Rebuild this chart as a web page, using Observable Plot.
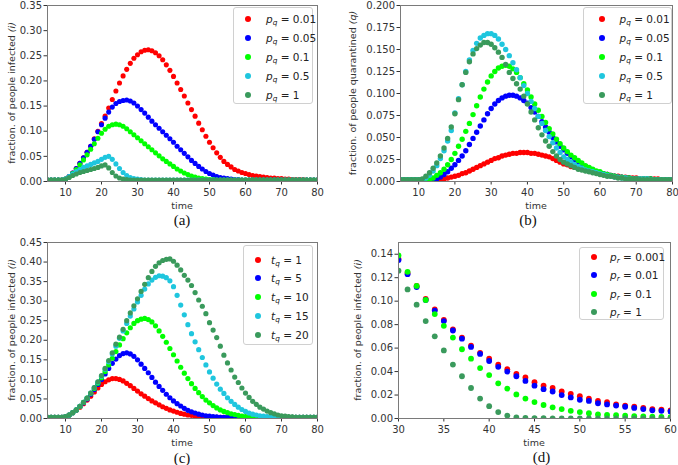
<!DOCTYPE html>
<html><head><meta charset="utf-8">
<script src="https://cdn.jsdelivr.net/npm/d3@7"></script>
<script src="https://cdn.jsdelivr.net/npm/@observablehq/plot@0.6"></script>
<style>
body{margin:0;background:#fff;width:678px;height:465px;position:relative;overflow:hidden;font-family:"DejaVu Sans",sans-serif;}
.panel{position:absolute;}
.cap{position:absolute;font-family:"Liberation Serif","Times New Roman",serif;font-size:15px;line-height:16px;color:#111;transform:translateX(-50%);white-space:nowrap;}
.legend{position:absolute;border:1px solid #d0d0d0;border-radius:3px;background:#fff;box-sizing:border-box;}
.lrow{position:absolute;left:0;right:0;height:16px;font-family:"DejaVu Sans";font-size:10.5px;line-height:16px;color:#222;white-space:nowrap;}
.lrow .sw{position:absolute;width:6px;height:6px;border-radius:50%;top:5px;}
.lrow .tx{position:absolute;top:0;}
.lrow sub{font-size:70%;vertical-align:-0.3em;line-height:0;}
</style></head><body>
<script>
// ---------- data ----------
const timeABC = d3.range(5, 81);   // t = 5 ... 80
const timeD = d3.range(30, 61);    // t = 30 ... 60

const colors5 = ["#ff0000", "#0000ff", "#00ff00", "#1fc6de", "#3a9a5c"];
const colors4 = ["#ff0000", "#0000ff", "#00ff00", "#3a9a5c"];

// (a) infected, p_q
const aLabels = ["0.01", "0.05", "0.1", "0.5", "1"];
const aRed = [0.003,0.003,0.003,0.003,0.003,
 0.005,0.010,0.017,0.026,0.036,0.047,0.058,0.070,0.085,0.100,
 0.115,0.130,0.146,0.163,0.180,0.196,0.210,0.223,0.235,0.245,
 0.252,0.258,0.261,0.262,0.260,0.256,0.250,0.242,0.232,0.221,
 0.209,0.196,0.183,0.170,0.156,0.143,0.130,0.116,0.103,0.090,
 0.078,0.067,0.057,0.048,0.040,0.034,0.029,0.024,0.021,0.018,
 0.016,0.014,0.012,0.011,0.010,0.009,0.008,0.007,0.007,0.006,
 0.006,0.005,0.005,0.004,0.004,0.004,0.004,0.003,0.003,0.003,0.003];
const aBlue = [0.003,0.003,0.003,0.003,0.003,
 0.005,0.010,0.017,0.026,0.036,0.047,0.058,0.070,0.084,0.099,
 0.113,0.126,0.138,0.148,0.155,0.159,0.161,0.162,0.160,0.156,
 0.150,0.143,0.136,0.128,0.120,0.113,0.106,0.099,0.092,0.085,
 0.078,0.070,0.063,0.056,0.049,0.042,0.036,0.030,0.025,0.020,
 0.016,0.013,0.010,0.008,0.007,0.006,0.005,0.004,0.004,0.003,
 0.003,0.003,0.003,0.003,0.003,0.003,0.003,0.003,0.003,0.003,
 0.003,0.003,0.003,0.003,0.003,0.003,0.003,0.003,0.003,0.003,0.003];
const aGreen = [0.003,0.003,0.003,0.003,0.003,
 0.005,0.009,0.016,0.024,0.033,0.043,0.053,0.064,0.075,0.086,
 0.096,0.104,0.110,0.113,0.114,0.113,0.110,0.105,0.099,0.093,
 0.087,0.081,0.075,0.069,0.063,0.057,0.051,0.045,0.040,0.035,
 0.030,0.025,0.021,0.017,0.014,0.011,0.009,0.007,0.006,0.005,
 0.004,0.004,0.003,0.003,0.003,0.003,0.003,0.003,0.003,0.003,
 0.003,0.003,0.003,0.003,0.003,0.003,0.003,0.003,0.003,0.003,
 0.003,0.003,0.003,0.003,0.003,0.003,0.003,0.003,0.003,0.003,0.003];
const aCyan = [0.003,0.003,0.003,0.003,0.003,
 0.005,0.010,0.015,0.020,0.024,0.028,0.031,0.034,0.037,0.040,
 0.044,0.048,0.050,0.044,0.035,0.026,0.018,0.012,0.008,0.006,
 0.005,0.004,0.003,0.003,0.003,0.003,0.003,0.003,0.003,0.003,
 0.003,0.003,0.003,0.003,0.003,0.003,0.003,0.003,0.003,0.003,
 0.003,0.003,0.003,0.003,0.003,0.003,0.003,0.003,0.003,0.003,
 0.003,0.003,0.003,0.003,0.003,0.003,0.003,0.003,0.003,0.003,
 0.003,0.003,0.003,0.003,0.003,0.003,0.003,0.003,0.003,0.003,0.003];
const aDark = [0.003,0.003,0.003,0.003,0.003,
 0.004,0.008,0.012,0.015,0.018,0.020,0.022,0.024,0.026,0.028,
 0.031,0.033,0.027,0.018,0.011,0.007,0.005,0.004,0.003,0.003,
 0.003,0.003,0.003,0.003,0.003,0.003,0.003,0.003,0.003,0.003,
 0.003,0.003,0.003,0.003,0.003,0.003,0.003,0.003,0.003,0.003,
 0.003,0.003,0.003,0.003,0.003,0.003,0.003,0.003,0.003,0.003,
 0.003,0.003,0.003,0.003,0.003,0.003,0.003,0.003,0.003,0.003,
 0.003,0.003,0.003,0.003,0.003,0.003,0.003,0.003,0.003,0.003,0.003];

// (b) quarantined, p_q
const bLabels = ["0.01", "0.05", "0.1", "0.5", "1"];
const bRed = [0.002,0.002,0.002,0.002,0.002,
 0.002,0.002,0.002,0.002,0.002,0.002,0.002,0.003,0.004,0.005,
 0.006,0.007,0.009,0.010,0.012,0.014,0.016,0.018,0.020,0.022,
 0.024,0.026,0.027,0.029,0.030,0.031,0.032,0.032,0.033,0.033,
 0.033,0.032,0.032,0.031,0.030,0.029,0.028,0.026,0.024,0.022,
 0.020,0.019,0.017,0.016,0.015,0.014,0.013,0.012,0.011,0.010,
 0.009,0.008,0.008,0.007,0.006,0.006,0.005,0.005,0.004,0.004,
 0.004,0.003,0.003,0.003,0.003,0.003,0.003,0.002,0.002,0.002,0.002];
const bBlue = [0.002,0.002,0.002,0.002,0.002,
 0.002,0.002,0.002,0.002,0.002,0.003,0.005,0.008,0.011,0.015,
 0.019,0.024,0.029,0.035,0.042,0.049,0.056,0.063,0.070,0.077,
 0.083,0.088,0.092,0.095,0.097,0.098,0.098,0.097,0.095,0.092,
 0.089,0.084,0.079,0.074,0.068,0.062,0.056,0.050,0.045,0.040,
 0.036,0.032,0.028,0.025,0.022,0.019,0.017,0.015,0.013,0.011,
 0.010,0.009,0.008,0.007,0.006,0.005,0.005,0.004,0.004,0.003,
 0.003,0.003,0.003,0.003,0.003,0.002,0.002,0.002,0.002,0.002,0.002];
const bGreen = [0.002,0.002,0.002,0.002,0.002,
 0.002,0.002,0.002,0.002,0.004,0.007,0.010,0.014,0.019,0.025,
 0.032,0.040,0.048,0.057,0.066,0.076,0.086,0.096,0.105,0.113,
 0.120,0.125,0.129,0.131,0.132,0.131,0.128,0.124,0.118,0.111,
 0.104,0.096,0.088,0.081,0.074,0.067,0.060,0.054,0.048,0.043,
 0.038,0.034,0.030,0.027,0.024,0.021,0.018,0.016,0.014,0.012,
 0.011,0.009,0.008,0.007,0.006,0.005,0.005,0.004,0.004,0.003,
 0.003,0.003,0.003,0.003,0.003,0.002,0.002,0.002,0.002,0.002,0.002];
const bCyan = [0.002,0.002,0.002,0.002,0.002,
 0.002,0.002,0.004,0.007,0.012,0.018,0.026,0.035,0.046,0.058,
 0.078,0.094,0.110,0.125,0.138,0.149,0.157,0.163,0.166,0.168,
 0.168,0.166,0.162,0.156,0.150,0.143,0.135,0.127,0.118,0.109,
 0.100,0.091,0.083,0.074,0.066,0.058,0.051,0.044,0.038,0.033,
 0.028,0.025,0.022,0.019,0.017,0.015,0.013,0.012,0.011,0.010,
 0.009,0.008,0.007,0.006,0.005,0.005,0.004,0.004,0.003,0.003,
 0.003,0.003,0.003,0.003,0.002,0.002,0.002,0.002,0.002,0.002,0.002];
const bDark = [0.002,0.002,0.002,0.002,0.002,
 0.002,0.003,0.006,0.010,0.015,0.021,0.029,0.038,0.049,0.062,
 0.077,0.093,0.110,0.124,0.136,0.145,0.151,0.155,0.158,0.158,
 0.156,0.152,0.147,0.141,0.133,0.124,0.117,0.111,0.105,0.097,
 0.088,0.079,0.070,0.061,0.053,0.046,0.040,0.034,0.029,0.025,
 0.022,0.020,0.018,0.016,0.014,0.013,0.012,0.011,0.010,0.009,
 0.008,0.007,0.006,0.006,0.005,0.004,0.004,0.003,0.003,0.003,
 0.003,0.002,0.002,0.002,0.002,0.002,0.002,0.002,0.002,0.002,0.002];

// (c) infected, t_q
const cLabels = ["1", "5", "10", "15", "20"];
const cRed = [0.003,0.003,0.003,0.003,0.003,
 0.005,0.009,0.015,0.021,0.029,0.038,0.047,0.057,0.068,0.078,
 0.087,0.094,0.099,0.102,0.102,0.100,0.096,0.090,0.084,0.077,
 0.070,0.063,0.057,0.051,0.045,0.040,0.035,0.030,0.026,0.022,
 0.019,0.016,0.013,0.011,0.009,0.008,0.006,0.005,0.005,0.004,
 0.003,0.003,0.003,0.003,0.003,0.003,0.003,0.003,0.003,0.003,
 0.003,0.003,0.003,0.003,0.003,0.003,0.003,0.003,0.003,0.003,
 0.003,0.003,0.003,0.003,0.003,0.003,0.003,0.003,0.003,0.003,0.003];
const cBlue = [0.003,0.003,0.003,0.003,0.003,
 0.005,0.009,0.015,0.022,0.031,0.040,0.050,0.062,0.074,0.087,
 0.100,0.114,0.128,0.141,0.152,0.161,0.166,0.168,0.165,0.159,
 0.150,0.139,0.128,0.117,0.105,0.093,0.082,0.072,0.062,0.053,
 0.045,0.038,0.032,0.026,0.021,0.017,0.014,0.011,0.009,0.007,
 0.006,0.005,0.004,0.003,0.003,0.003,0.003,0.003,0.003,0.003,
 0.003,0.003,0.003,0.003,0.003,0.003,0.003,0.003,0.003,0.003,
 0.003,0.003,0.003,0.003,0.003,0.003,0.003,0.003,0.003,0.003,0.003];
const cGreen = [0.003,0.003,0.003,0.003,0.003,
 0.005,0.009,0.015,0.022,0.031,0.041,0.052,0.064,0.077,0.090,
 0.104,0.120,0.137,0.154,0.171,0.188,0.204,0.219,0.232,0.243,
 0.250,0.254,0.256,0.253,0.247,0.237,0.224,0.210,0.195,0.179,
 0.163,0.147,0.131,0.116,0.102,0.089,0.077,0.066,0.056,0.047,
 0.040,0.033,0.027,0.022,0.018,0.015,0.012,0.010,0.008,0.006,
 0.005,0.005,0.004,0.003,0.003,0.003,0.003,0.003,0.003,0.003,
 0.003,0.003,0.003,0.003,0.003,0.003,0.003,0.003,0.003,0.003,0.003];
const cCyan = [0.003,0.003,0.003,0.003,0.003,
 0.005,0.009,0.015,0.022,0.031,0.041,0.052,0.065,0.079,0.093,
 0.108,0.126,0.145,0.165,0.185,0.205,0.224,0.243,0.262,0.280,
 0.298,0.315,0.331,0.344,0.354,0.361,0.365,0.364,0.360,0.352,
 0.337,0.315,0.290,0.265,0.240,0.217,0.196,0.176,0.156,0.137,
 0.119,0.103,0.088,0.075,0.064,0.053,0.044,0.036,0.029,0.023,
 0.018,0.014,0.011,0.009,0.007,0.006,0.005,0.004,0.003,0.003,
 0.003,0.003,0.003,0.003,0.003,0.003,0.003,0.003,0.003,0.003,0.003];
const cDark = [0.003,0.003,0.003,0.003,0.003,
 0.005,0.009,0.015,0.022,0.031,0.041,0.052,0.065,0.079,0.094,
 0.110,0.128,0.148,0.168,0.190,0.208,0.228,0.250,0.270,0.288,
 0.306,0.325,0.343,0.360,0.376,0.389,0.398,0.404,0.407,0.408,
 0.402,0.392,0.380,0.366,0.354,0.340,0.322,0.303,0.287,0.268,
 0.245,0.226,0.207,0.185,0.162,0.142,0.124,0.106,0.092,0.078,
 0.065,0.054,0.044,0.036,0.029,0.024,0.019,0.015,0.012,0.009,
 0.007,0.006,0.005,0.004,0.003,0.003,0.003,0.003,0.003,0.003,0.003];

// (d) infected, p_r, t = 30 ... 60
const dLabels = ["0.001", "0.01", "0.1", "1"];
const dRed = [0.136,0.124,0.113,0.102,0.093,0.084,0.076,0.069,0.062,0.056,
 0.051,0.046,0.042,0.038,0.035,0.031,0.028,0.026,0.023,0.021,
 0.019,0.017,0.015,0.014,0.012,0.011,0.010,0.009,0.008,0.0075,0.007];
const dBlue = [0.135,0.123,0.112,0.101,0.092,0.083,0.075,0.068,0.061,0.055,
 0.049,0.044,0.040,0.036,0.032,0.028,0.025,0.023,0.020,0.018,
 0.016,0.015,0.013,0.012,0.011,0.010,0.009,0.008,0.007,0.0065,0.006];
const dGreen = [0.139,0.125,0.113,0.101,0.089,0.079,0.069,0.059,0.051,0.043,
 0.037,0.030,0.0255,0.0205,0.017,0.014,0.0115,0.0095,0.008,0.0065,
 0.0055,0.0045,0.0035,0.003,0.0028,0.0024,0.002,0.0017,0.0015,0.0013,0.0011];
const dDark = [0.126,0.110,0.097,0.083,0.070,0.058,0.046,0.036,0.026,0.017,
 0.0105,0.0055,0.0025,0.001,0.0005,0.0003,0.0002,0.0001,0,0,
 0,0,0,0,0,0,0,0,0,0,0];

// tick labels
const xTicksABC = [10, 20, 30, 40, 50, 60, 70, 80];
const xTicksD = [30, 35, 40, 45, 50, 55, 60];
const yTicksA = [0, 0.05, 0.10, 0.15, 0.20, 0.25, 0.30, 0.35];
const yTicksB = [0, 0.025, 0.05, 0.075, 0.10, 0.125, 0.15, 0.175, 0.20];
const yTicksC = [0, 0.05, 0.10, 0.15, 0.20, 0.25, 0.30, 0.35, 0.40, 0.45];
const yTicksD = [0, 0.02, 0.04, 0.06, 0.08, 0.10, 0.12, 0.14];

// ---------- drawing ----------
const panels = [
  {left: 0, top: 0, width: 339, mL: 47, mR: 22, time: timeABC, xDomain: [5, 80], xTicks: xTicksABC,
   yDomain: [0, 0.35], yTicks: yTicksA, fmt: ".2f", series: [aRed, aBlue, aGreen, aCyan, aDark], colors: colors5,
   sym: "p", sub: "q", labels: aLabels, ylab: ["fraction. of people infected ", "(i)"], ylabX: 14.5,
   cap: "(a)", capX: 182, capY: 212, r: 2.55,
   leg: {x: 233, y: 7, w: 80, h: 97, dot: 13.5, tx: 32, rows: [11, 29.5, 48.5, 67.5, 86.5]}},
  {left: 340, top: 0, width: 338, mL: 60, mR: 6, time: timeABC, xDomain: [5, 80], xTicks: xTicksABC,
   yDomain: [0, 0.2], yTicks: yTicksB, fmt: ".3f", series: [bRed, bBlue, bGreen, bCyan, bDark], colors: colors5,
   sym: "p", sub: "q", labels: bLabels, ylab: ["fraction. of people quarantined ", "(q)"], ylabX: 15.5,
   cap: "(b)", capX: 528, capY: 212, r: 2.7,
   leg: {x: 582.5, y: 7, w: 89, h: 97, dot: 18.5, tx: 36, rows: [11, 29.5, 48.5, 67.5, 86.5]}},
  {left: 0, top: 237, width: 339, mL: 47, mR: 22, time: timeABC, xDomain: [5, 80], xTicks: xTicksABC,
   yDomain: [0, 0.45], yTicks: yTicksC, fmt: ".2f", series: [cRed, cBlue, cGreen, cCyan, cDark], colors: colors5,
   sym: "t", sub: "q", labels: cLabels, ylab: ["fraction. of people infected ", "(i)"], ylabX: 14.5,
   cap: "(c)", capX: 182, capY: 450, r: 2.6,
   leg: {x: 242.5, y: 245, w: 70.5, h: 100, dot: 14, tx: 27.5, rows: [13.5, 31.5, 50.5, 69.5, 88.5]}},
  {left: 340, top: 237, width: 338, mL: 58, mR: 8, time: timeD, xDomain: [30, 60], xTicks: xTicksD,
   yDomain: [0, 0.15], yTicks: yTicksD, fmt: ".2f", series: [dRed, dBlue, dGreen, dDark], colors: colors4,
   sym: "p", sub: "r", labels: dLabels, ylab: ["fraction. of people infected ", "(i)"], ylabX: 21,
   cap: "(d)", capX: 541.5, capY: 449, r: 2.9,
   leg: {x: 579, y: 246.5, w: 85, h: 73.5, dot: 14, tx: 30, rows: [9.5, 27.5, 46, 64]}}
];

const H = 213, MT = 5, MB = 32;

for (const p of panels) {
  const keys = p.labels.map(l => `${p.sym}${p.sub}=${l}`);
  const data = [];
  p.series.forEach((vals, i) => vals.forEach((v, j) => data.push({t: p.time[j], v, s: keys[i]})));

  const svg = Plot.plot({
    width: p.width, height: H,
    marginLeft: p.mL, marginRight: p.mR, marginTop: MT, marginBottom: MB,
    style: {fontFamily: "DejaVu Sans", fontSize: "10px", color: "#333", background: "transparent", overflow: "visible"},
    x: {domain: p.xDomain, ticks: p.xTicks, tickSize: 3.5, tickPadding: 3.5, label: null, tickFormat: d3.format("d")},
    y: {domain: p.yDomain, ticks: p.yTicks, tickSize: 3.5, tickPadding: 2, label: null, tickFormat: d3.format(p.fmt)},
    color: {domain: keys, range: p.colors},
    marks: [
      Plot.dot(data, {x: "t", y: "v", fill: "s", r: p.r, clip: true}),
      Plot.frame({stroke: "#7a7a7a", strokeWidth: 1})
    ]
  });

  const s = d3.select(svg);
  const plotW = p.width - p.mL - p.mR;
  const plotB = H - MB;
  s.append("text")
    .attr("x", p.mL + plotW / 2).attr("y", plotB + 27.5)
    .attr("text-anchor", "middle").attr("font-size", 9.5).attr("fill", "#333")
    .attr("font-family", "DejaVu Sans").text("time");
  const yl = s.append("text")
    .attr("transform", `translate(${p.ylabX},${MT + (plotB - MT) / 2}) rotate(-90)`)
    .attr("text-anchor", "middle").attr("font-size", 9.5).attr("fill", "#333")
    .attr("font-family", "DejaVu Sans");
  yl.append("tspan").text(p.ylab[0]);
  yl.append("tspan").attr("font-style", "italic").text(p.ylab[1]);

  const div = document.createElement("div");
  div.className = "panel";
  div.style.left = p.left + "px";
  div.style.top = p.top + "px";
  div.appendChild(svg);
  document.body.appendChild(div);

  // legend
  const lg = document.createElement("div");
  lg.className = "legend";
  Object.assign(lg.style, {left: p.leg.x + "px", top: p.leg.y + "px", width: p.leg.w + "px", height: p.leg.h + "px"});
  p.labels.forEach((l, i) => {
    const row = document.createElement("div");
    row.className = "lrow";
    row.style.top = (p.leg.rows[i] - 8) + "px";
    const sw = document.createElement("span");
    sw.className = "sw";
    sw.style.left = (p.leg.dot - 3) + "px";
    sw.style.background = p.colors[i];
    const tx = document.createElement("span");
    tx.className = "tx";
    tx.style.left = p.leg.tx + "px";
    tx.innerHTML = `<i>${p.sym}</i><sub><i>${p.sub}</i></sub> = ${l}`;
    row.appendChild(sw); row.appendChild(tx);
    lg.appendChild(row);
  });
  document.body.appendChild(lg);

  const cap = document.createElement("div");
  cap.className = "cap";
  cap.style.left = p.capX + "px";
  cap.style.top = p.capY + "px";
  cap.textContent = p.cap;
  document.body.appendChild(cap);
}
</script>
</body></html>
